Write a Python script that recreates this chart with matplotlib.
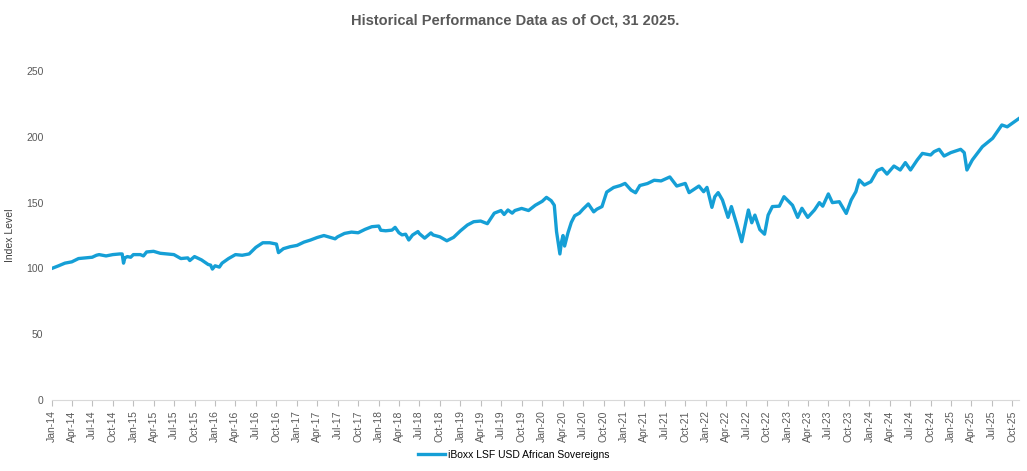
import pandas as pd
import matplotlib.pyplot as plt
import matplotlib.dates as mdates

# index level (roughly twice a month, more around the sharp moves)
dates = [
    "2014-01-02", "2014-02-01", "2014-03-01", "2014-04-01", "2014-05-01", "2014-06-01",
    "2014-07-01", "2014-07-20", "2014-08-01", "2014-09-01", "2014-10-01", "2014-11-01",
    "2014-11-12", "2014-11-18", "2014-11-24", "2014-12-05", "2014-12-20",
    "2015-01-01", "2015-02-01", "2015-02-15", "2015-03-01", "2015-04-01", "2015-05-01",
    "2015-06-01", "2015-07-01", "2015-08-01", "2015-09-01", "2015-09-10", "2015-10-01",
    "2015-11-01", "2015-12-01", "2015-12-12", "2015-12-20",
    "2016-01-01", "2016-01-20", "2016-02-01", "2016-03-01", "2016-04-01", "2016-05-01",
    "2016-06-01", "2016-07-01", "2016-08-01", "2016-09-01", "2016-10-01", "2016-10-10",
    "2016-11-01", "2016-12-01",
    "2017-01-01", "2017-02-01", "2017-03-01", "2017-04-01", "2017-05-01", "2017-06-01",
    "2017-06-20", "2017-07-01", "2017-08-01", "2017-09-01", "2017-10-01", "2017-11-01",
    "2017-12-01",
    "2018-01-01", "2018-01-10", "2018-02-01", "2018-03-01", "2018-03-15", "2018-04-01",
    "2018-04-15", "2018-05-01", "2018-05-15", "2018-06-01", "2018-06-25", "2018-07-01",
    "2018-07-25", "2018-08-01", "2018-08-22", "2018-09-01", "2018-10-01", "2018-11-01",
    "2018-12-01",
    "2019-01-01", "2019-02-01", "2019-03-01", "2019-04-01", "2019-05-01", "2019-06-01",
    "2019-07-01", "2019-07-15", "2019-08-01", "2019-08-20", "2019-09-01", "2019-10-01",
    "2019-11-01", "2019-12-01",
    "2020-01-01", "2020-01-20", "2020-02-10", "2020-02-24", "2020-03-05", "2020-03-20",
    "2020-03-27", "2020-04-03", "2020-04-10", "2020-04-25", "2020-05-10", "2020-05-25",
    "2020-06-15", "2020-07-01", "2020-07-25", "2020-08-18", "2020-09-01", "2020-09-24",
    "2020-10-15", "2020-11-15", "2020-12-15",
    "2021-01-05", "2021-02-01", "2021-02-21", "2021-03-12", "2021-04-15", "2021-05-15",
    "2021-06-15", "2021-07-24", "2021-08-24", "2021-10-01", "2021-10-18", "2021-12-01",
    "2021-12-22",
    "2022-01-06", "2022-01-28", "2022-02-10", "2022-02-25", "2022-03-16", "2022-04-10",
    "2022-04-25", "2022-05-18", "2022-06-10", "2022-07-10", "2022-07-25", "2022-08-08",
    "2022-08-30", "2022-09-20", "2022-10-06", "2022-10-25", "2022-11-25", "2022-12-16",
    "2023-01-23", "2023-02-15", "2023-03-06", "2023-04-01", "2023-05-01", "2023-05-23",
    "2023-06-07", "2023-07-02", "2023-07-20", "2023-08-20", "2023-09-20", "2023-10-12",
    "2023-11-02", "2023-11-17", "2023-12-10",
    "2024-01-08", "2024-02-05", "2024-02-27", "2024-03-20", "2024-04-20", "2024-05-18",
    "2024-06-10", "2024-07-03", "2024-08-02", "2024-08-25", "2024-10-01", "2024-10-16",
    "2024-11-08", "2024-11-30", "2024-12-30",
    "2025-02-12", "2025-02-28", "2025-03-12", "2025-04-05", "2025-05-20", "2025-07-05",
    "2025-08-15", "2025-09-08", "2025-10-31",
]
index_level = [
    100, 102, 104, 105, 107.5, 108,
    108.5, 110, 110.5, 109.5, 110.5, 111,
    111, 104, 108, 109, 108.5,
    110.5, 110.5, 109.5, 112.5, 113, 111.5,
    111, 110.5, 107.5, 108, 106, 109,
    106.5, 103, 102.5, 99.5,
    102, 101, 104, 107.5, 110.5, 110,
    111, 116, 119.5, 119.5, 118.5, 112,
    115, 116.5,
    117.5, 120, 121.5, 123.5, 125, 123.5,
    122.5, 124, 126.6, 127.6, 127.1, 129.7,
    131.7,
    132.2, 129, 128.6, 129.1, 131.2, 127.1,
    125.5, 126, 121.6, 125.4, 128, 126.5,
    123, 124, 127, 125.4, 124, 121,
    123.6,
    128.6, 133, 135.5, 136, 134, 142,
    144, 141, 144.4, 142, 144, 145.6,
    144, 148,
    151, 154, 151.5, 148, 128, 111,
    120, 125, 117, 127, 135, 140,
    142, 145, 149, 143, 145, 147,
    158, 161.5, 163,
    164.6, 159.5, 157.5, 163, 164.5, 167,
    166.5, 169.5, 162.6, 164.6, 157.6, 162.6,
    158.3,
    161.6, 146.4, 154.5, 157.6, 152, 138.8,
    147, 134, 120.3, 144.4, 134.7, 140.5,
    129.5, 126, 140.5, 147, 147.3, 154.5,
    148, 138.8, 145.7, 138.8, 144.4, 150,
    147.3, 156.6, 150, 150.7, 141.8, 152,
    158.3, 167.2, 163.4,
    165.9, 174.3, 176, 171.7, 177.8, 174.8,
    180.4, 174.8, 182.4, 187.4, 186.2, 188.7,
    190.5, 185.4, 188,
    190.5, 188, 174.8, 182.4, 192.5, 198.9,
    209, 207.6, 214,
]
series_name = "iBoxx LSF USD African Sovereigns"

x = pd.to_datetime(dates)

fig = plt.figure(figsize=(10.27, 4.71), dpi=100)
ax = fig.add_axes([0.0503, 0.1507, 0.942, 0.6985])

ax.plot(x, index_level, color="#159fd6", lw=2.4, solid_joinstyle="round",
        label=series_name)

ax.set_ylim(0, 250)
ax.set_yticks([0, 50, 100, 150, 200, 250])
ax.set_xlim(pd.Timestamp("2014-01-01"), pd.Timestamp("2025-10-31"))
ax.xaxis.set_major_locator(mdates.MonthLocator(bymonth=[1, 4, 7, 10]))
ax.xaxis.set_major_formatter(mdates.DateFormatter("%b-%y"))

for s in ["top", "right", "left"]:
    ax.spines[s].set_visible(False)
ax.spines["bottom"].set_color("#d9d9d9")
ax.tick_params(axis="x", colors="#bfbfbf", length=4, labelrotation=90,
               labelsize=7.5, labelcolor="#595959")
ax.tick_params(axis="y", length=0, labelsize=7.5, labelcolor="#595959", pad=6)
for lbl in ax.get_xticklabels() + ax.get_yticklabels():
    lbl.set_family("Liberation Sans")

ax.set_ylabel("Index Level", fontsize=7.5, color="#404040",
              family="Liberation Sans", labelpad=8)

fig.suptitle("Historical Performance Data as of Oct, 31 2025.", x=0.502, y=0.972,
             fontsize=10.5, fontweight="bold", color="#595959",
             family=["Liberation Sans Narrow", "Liberation Sans", "DejaVu Sans"])

fig.legend(loc="center", bbox_to_anchor=(0.5, 0.034), frameon=False,
           prop={"family": "Liberation Sans", "size": 7.5}, handlelength=2.6,
           handletextpad=0.3)

fig.savefig("out.png", dpi=100)
